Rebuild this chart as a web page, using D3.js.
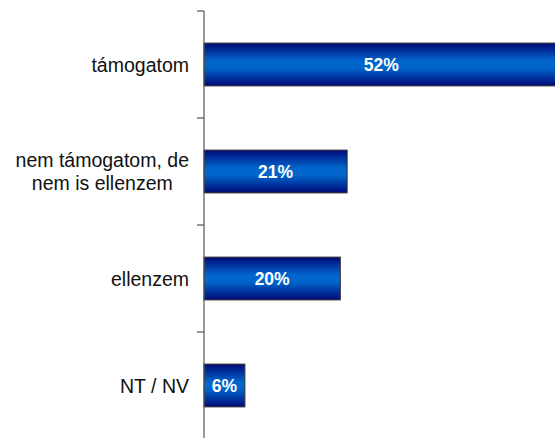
<!DOCTYPE html>
<html>
<head>
<meta charset="utf-8">
<script src="https://cdn.jsdelivr.net/npm/d3@7"></script>
<style>
  body { margin: 0; background: #fff; }
  svg { display: block; font-family: "Liberation Sans", Arial, sans-serif; }
</style>
</head>
<body>
<div id="chart"></div>
<script>
// categories and values
const categories = ["támogatom", "nem támogatom, de\nnem is ellenzem", "ellenzem", "NT / NV"];
const values = [52, 21, 20, 6];

const width = 555, height = 438;
const margin = {top: 11, right: 0, bottom: 0, left: 204};

const svg = d3.select("#chart")
    .append("svg")
    .attr("width", width)
    .attr("height", height);

// vertical gradient for the bars
const grad = svg.append("defs").append("linearGradient")
    .attr("id", "barGrad")
    .attr("x1", 0).attr("y1", 0).attr("x2", 0).attr("y2", 1);
grad.append("stop").attr("offset", "0%").attr("stop-color", "#000a78");
grad.append("stop").attr("offset", "42%").attr("stop-color", "#0066cc");
grad.append("stop").attr("offset", "58%").attr("stop-color", "#0066cc");
grad.append("stop").attr("offset", "100%").attr("stop-color", "#000a78");

const x = d3.scaleLinear()
    .domain([0, 51.5])
    .range([margin.left, width]);

const y = d3.scaleBand()
    .domain(categories)
    .range([margin.top, margin.top + 428])
    .paddingInner(0.6)
    .paddingOuter(0.3);

const g = svg.append("g");

// bars
g.selectAll(".bar")
    .data(values)
    .enter()
    .append("rect")
    .attr("class", "bar")
    .attr("x", x(0))
    .attr("y", (d, i) => y(categories[i]))
    .attr("width", d => x(d) - x(0))
    .attr("height", y.bandwidth())
    .attr("fill", "url(#barGrad)")
    .attr("stroke", "#333")
    .attr("stroke-width", 1);

// value labels
g.selectAll(".val")
    .data(values)
    .enter()
    .append("text")
    .attr("class", "val")
    .attr("x", d => (x(0) + x(d)) / 2)
    .attr("y", (d, i) => y(categories[i]) + y.bandwidth() / 2)
    .attr("dy", "0.36em")
    .attr("text-anchor", "middle")
    .attr("fill", "#fff")
    .style("font-weight", "bold")
    .style("font-size", "17.5px")
    .text(d => d + "%");

// axis line with ticks at band boundaries
const axis = svg.append("g").attr("stroke", "#555").attr("stroke-width", 1.2);
axis.append("line")
    .attr("x1", x(0)).attr("x2", x(0))
    .attr("y1", margin.top).attr("y2", height);
const step = y.step();
const bounds = d3.range(categories.length + 1).map(i => y(categories[0]) - y.paddingOuter() * step + i * step);
axis.selectAll(".tick")
    .data(bounds)
    .enter()
    .append("line")
    .attr("x1", x(0) - 7).attr("x2", x(0))
    .attr("y1", d => d).attr("y2", d => d);

// category labels (multi-line block right-aligned, lines centered)
const labelRight = 189;
categories.forEach((c, i) => {
    const lines = c.split("\n");
    const cy = y(c) + y.bandwidth() / 2;
    const t = svg.append("text")
        .attr("fill", "#111")
        .style("font-size", "19.5px")
        .attr("text-anchor", "middle");
    lines.forEach((ln, j) => {
        t.append("tspan")
            .attr("x", 0)
            .attr("y", cy + (j - (lines.length - 1) / 2) * 23)
            .attr("dy", "0.36em")
            .text(ln);
    });
    const bb = t.node().getBBox();
    t.attr("transform", `translate(${labelRight - bb.width / 2},0)`);
});
</script>
</body>
</html>
